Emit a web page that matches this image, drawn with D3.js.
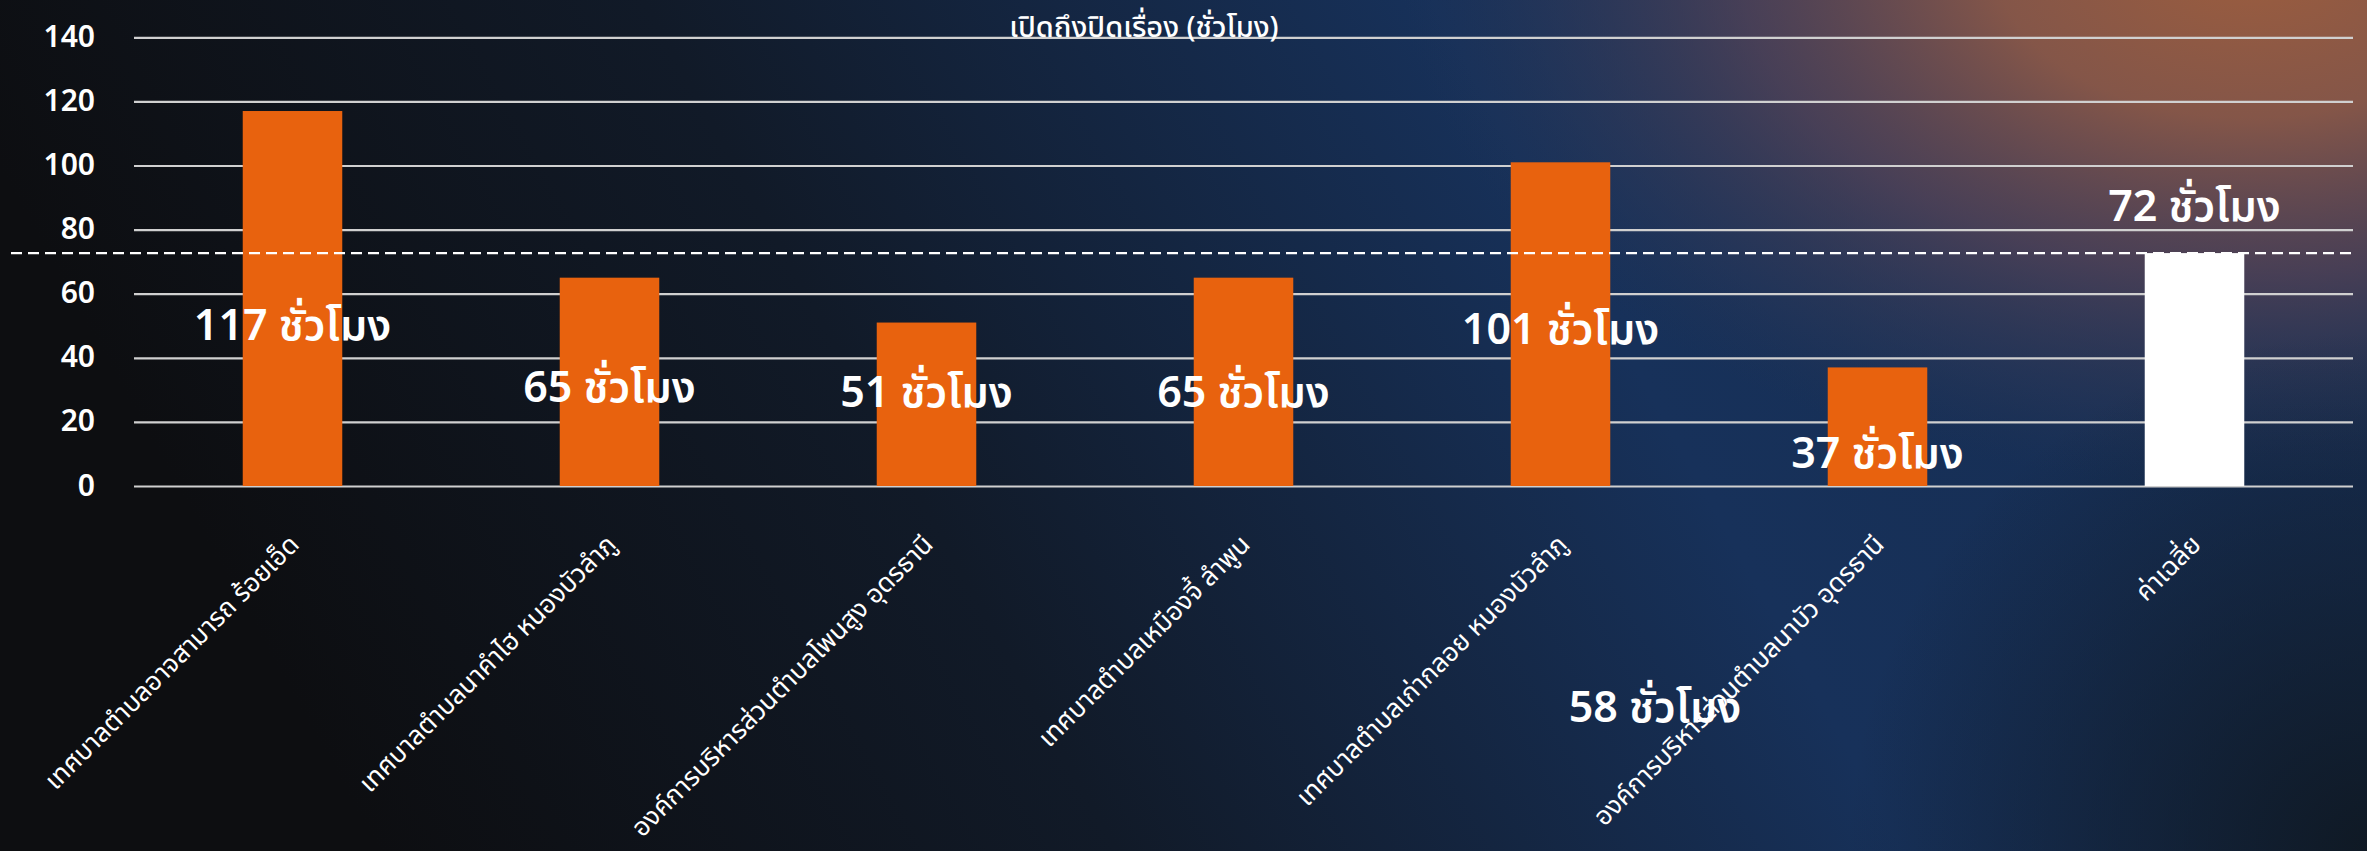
<!DOCTYPE html>
<html>
<head>
<meta charset="utf-8">
<script src="https://cdn.jsdelivr.net/npm/d3@7"></script>
<style>
  html, body { margin: 0; padding: 0; background: #0e0f12; }
  svg { display: block; }
  text { font-family: "Noto Sans Thai", "Noto Sans", sans-serif; fill: #ffffff; }
</style>
</head>
<body>
<svg id="chart"></svg>
<script>
    'use strict';

    // data
    var categories = [
        'เทศบาลตำบลอาจสามารถ ร้อยเอ็ด',
        'เทศบาลตำบลนาคำไฮ หนองบัวลำภู',
        'องค์การบริหารส่วนตำบลโพนสูง อุดรธานี',
        'เทศบาลตำบลเหมืองจี้ ลำพูน',
        'เทศบาลตำบลเก่ากลอย หนองบัวลำภู',
        'องค์การบริหารส่วนตำบลนาบัว อุดรธานี',
        'ค่าเฉลี่ย'
    ];
    var hours = [117, 65, 51, 65, 101, 37, 72.67];
    var valueLabels = ['117 ชั่วโมง', '65 ชั่วโมง', '51 ชั่วโมง', '65 ชั่วโมง', '101 ชั่วโมง', '37 ชั่วโมง', '72 ชั่วโมง'];
    var averageHours = 72.67;
    var yTicks = [0, 20, 40, 60, 80, 100, 120, 140];
    var titleText = 'เปิดถึงปิดเรื่อง (ชั่วโมง)';
    var strayLabel = '58 ชั่วโมง';

(function () {
    // layout
    var width = 2367, height = 851;
    var plotLeft = 134, plotRight = 2353, plotTop = 37.3, plotBottom = 486;
    // where each value label sits, in axis units (as placed in the original)
    var labelLevel = [45.4, 26.3, 24.6, 24.6, 44.3, 5.5, 82.6];

    var svg = d3.select('#chart')
        .attr('width', width)
        .attr('height', height);

    var defs = svg.append('defs');

    var base = defs.append('linearGradient')
        .attr('id', 'bg')
        .attr('x1', 0).attr('y1', 0.2).attr('x2', 1).attr('y2', 0);
    base.append('stop').attr('offset', 0).attr('stop-color', '#0d0e11');
    base.append('stop').attr('offset', 0.3).attr('stop-color', '#111a28');
    base.append('stop').attr('offset', 0.62).attr('stop-color', '#17315a');
    base.append('stop').attr('offset', 1).attr('stop-color', '#162c4f');

    // warm glow in the top right corner, squashed vertically
    var glow = defs.append('radialGradient')
        .attr('id', 'glow')
        .attr('gradientUnits', 'userSpaceOnUse')
        .attr('cx', 2250).attr('cy', -40).attr('r', 850)
        .attr('gradientTransform', 'translate(2250,-40) scale(1,0.62) translate(-2250,40)');
    glow.append('stop').attr('offset', 0).attr('stop-color', '#9c5d3e').attr('stop-opacity', 1);
    glow.append('stop').attr('offset', 0.3).attr('stop-color', '#8a5848').attr('stop-opacity', 0.95);
    glow.append('stop').attr('offset', 0.6).attr('stop-color', '#5c4657').attr('stop-opacity', 0.7);
    glow.append('stop').attr('offset', 0.85).attr('stop-color', '#3a3d58').attr('stop-opacity', 0.3);
    glow.append('stop').attr('offset', 1).attr('stop-color', '#2a3552').attr('stop-opacity', 0);

    var shade = defs.append('radialGradient')
        .attr('id', 'shade')
        .attr('gradientUnits', 'userSpaceOnUse')
        .attr('cx', 2367).attr('cy', 851).attr('r', 520);
    shade.append('stop').attr('offset', 0).attr('stop-color', '#0f1822').attr('stop-opacity', 0.95);
    shade.append('stop').attr('offset', 1).attr('stop-color', '#0f1822').attr('stop-opacity', 0);

    svg.append('rect').attr('width', width).attr('height', height).attr('fill', 'url(#bg)');
    svg.append('rect').attr('width', width).attr('height', height).attr('fill', 'url(#glow)');
    svg.append('rect').attr('width', width).attr('height', height).attr('fill', 'url(#shade)');

    var x = d3.scaleBand()
        .domain(categories)
        .range([plotLeft, plotRight])
        .paddingInner(0.686)
        .paddingOuter(0.343);

    var y = d3.scaleLinear()
        .domain([0, 140])
        .range([plotBottom, plotTop]);

    // gridlines + y labels
    svg.append('g')
        .attr('class', 'y axis')
        .attr('transform', 'translate(' + plotLeft + ',0)')
        .call(d3.axisLeft(y).tickValues(yTicks).tickSize(-(plotRight - plotLeft)).tickPadding(39))
        .call(function (g) {
            g.select('.domain').remove();
            g.selectAll('.tick line')
                .attr('stroke', '#d0d0d0')
                .attr('stroke-width', 2.2);
            g.selectAll('.tick text')
                .attr('font-size', 30)
                .attr('font-weight', 600)
                .attr('fill', '#ffffff')
                .attr('font-family', '"Noto Sans", sans-serif')
                .attr('dy', '0.3em');
        });

    // title
    svg.append('text')
        .attr('x', 1144)
        .attr('y', 37)
        .attr('text-anchor', 'middle')
        .attr('font-size', 29)
        .attr('font-weight', 500)
        .text(titleText);

    // bars
    svg.append('g')
        .selectAll('rect')
        .data(hours)
        .enter().append('rect')
        .attr('x', function (d, i) { return x(categories[i]); })
        .attr('y', function (d) { return y(d); })
        .attr('width', x.bandwidth())
        .attr('height', function (d) { return y(0) - y(d); })
        .attr('fill', function (d, i) { return i === categories.length - 1 ? '#ffffff' : '#e8620e'; });

    // average line
    svg.append('line')
        .attr('x1', 11)
        .attr('x2', 2351)
        .attr('y1', y(averageHours))
        .attr('y2', y(averageHours))
        .attr('stroke', '#ffffff')
        .attr('stroke-width', 2.4)
        .attr('stroke-dasharray', '11,6');

    // x labels
    svg.append('g')
        .attr('class', 'x axis')
        .attr('transform', 'translate(0,' + plotBottom + ')')
        .call(d3.axisBottom(x).tickSize(0).tickPadding(0))
        .call(function (g) {
            g.select('.domain').remove();
            g.selectAll('.tick text')
                .attr('font-size', 26)
                .attr('fill', '#ffffff')
                .attr('text-anchor', 'end')
                .attr('dy', null)
                .attr('y', null)
                .attr('transform', 'translate(8,60) rotate(-45)');
        });

    // value labels
    svg.append('g')
        .selectAll('text')
        .data(valueLabels)
        .enter().append('text')
        .attr('x', function (d, i) { return x(categories[i]) + x.bandwidth() / 2; })
        .attr('y', function (d, i) { return y(labelLevel[i]); })
        .attr('text-anchor', 'middle')
        .attr('font-size', 43)
        .attr('font-weight', 600)
        .text(function (d) { return d; });

    svg.append('text')
        .attr('x', 1655)
        .attr('y', 722)
        .attr('text-anchor', 'middle')
        .attr('font-size', 43)
        .attr('font-weight', 600)
        .text(strayLabel);
}());
</script>
</body>
</html>
